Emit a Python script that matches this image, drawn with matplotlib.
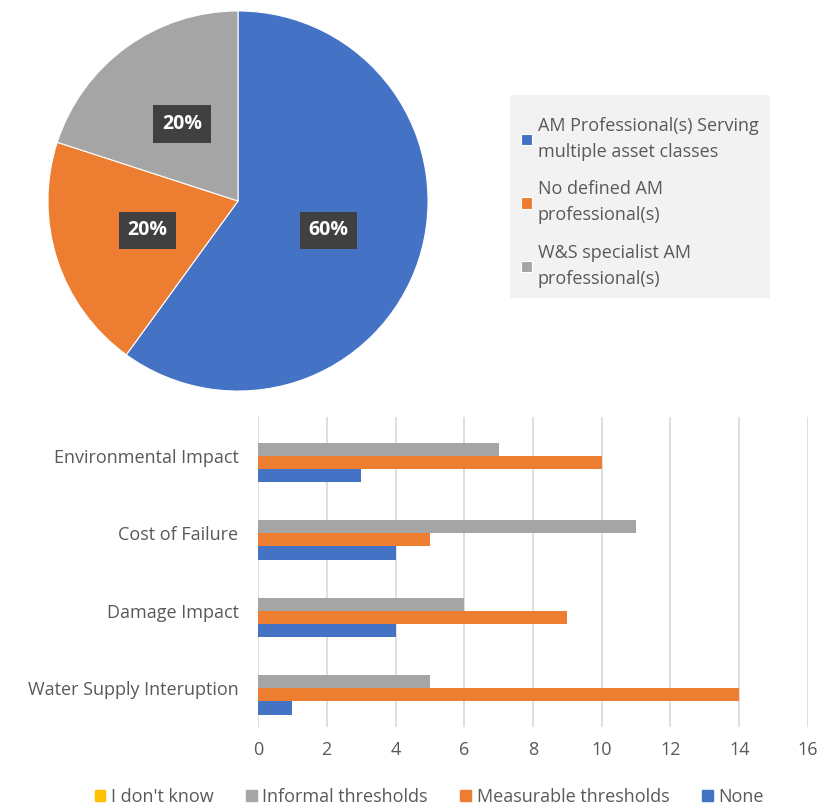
import matplotlib.pyplot as plt
import numpy as np
from matplotlib.patches import Patch, Rectangle

plt.rcParams['font.family'] = ['Open Sans', 'DejaVu Sans']

# pie data
pie_labels = ["AM Professional(s) Serving\nmultiple asset classes",
              "No defined AM\nprofessional(s)",
              "W&S specialist AM\nprofessional(s)"]
pie_values = [60, 20, 20]
pie_colors = ['#4472c4', '#ed7d31', '#a5a5a5']

# bar data
categories = ["Water Supply Interuption", "Damage Impact", "Cost of Failure", "Environmental Impact"]
series_names = ["None", "Measurable thresholds", "Informal thresholds", "I don't know"]
none_vals = [1, 4, 4, 3]
measurable_vals = [14, 9, 5, 10]
informal_vals = [5, 6, 11, 7]
dont_know_vals = [0, 0, 0, 0]
series_vals = [none_vals, measurable_vals, informal_vals, dont_know_vals]
series_colors = ['#4472c4', '#ed7d31', '#a5a5a5', '#ffc000']

text_col = '#595959'

fig = plt.figure(figsize=(8.37, 8.10), dpi=100)

# ---- pie ----
ax1 = fig.add_axes([47 / 837, 418 / 810, 382 / 837, 382 / 810])
wedges, _, autotexts = ax1.pie(pie_values, colors=pie_colors, startangle=90, counterclock=False,
                               autopct='%1.0f%%', pctdistance=0.5,
                               wedgeprops=dict(edgecolor='white', linewidth=0.8))
for t in autotexts:
    t.set_color('white')
    t.set_fontsize(14)
    t.set_fontweight('bold')
    t.set_bbox(dict(facecolor='#404040', edgecolor='none', boxstyle='square,pad=0.45'))
ax1.set_aspect('equal')
ax1.set_xlim(-1.005, 1.005)
ax1.set_ylim(-1.005, 1.005)

# legend background box
fig.patches.append(Rectangle((510 / 837, 1 - 298 / 810), 260 / 837, 203 / 810,
                             transform=fig.transFigure, facecolor='#f2f2f2',
                             edgecolor='none', zorder=0))
leg1 = fig.legend(wedges, pie_labels, loc='upper left', bbox_to_anchor=(510 / 837, 1 - 106 / 810),
                  frameon=False, fontsize=13, labelcolor=text_col, handlelength=0.6,
                  handleheight=0.6, handletextpad=0.35, labelspacing=1.1, borderpad=0.6,
                  borderaxespad=0)
for t in leg1.get_texts():
    t.set_linespacing(1.55)

# ---- bars ----
ax2 = fig.add_axes([258 / 837, 83 / 810, 550 / 837, 310 / 810])
y = np.arange(len(categories))
h = 0.17
offsets = [-1.5 * h, -0.5 * h, 0.5 * h, 1.5 * h]
for vals, off, col in zip(series_vals, offsets, series_colors):
    ax2.barh(y + off, vals, height=h, color=col, zorder=3)

ax2.set_xlim(0, 16)
ax2.set_ylim(-0.5, 3.5)
ax2.set_xticks(range(0, 17, 2))
ax2.set_yticks(y)
ax2.set_yticklabels(categories)
ax2.grid(axis='x', color='#d9d9d9', linewidth=1.2, zorder=0)
for s in ax2.spines.values():
    s.set_visible(False)
ax2.tick_params(axis='both', length=0, labelsize=13, colors=text_col)
ax2.tick_params(axis='x', pad=10)
ax2.tick_params(axis='y', pad=14)

handles = [Patch(color=c) for c in series_colors[::-1]]
fig.legend(handles, series_names[::-1], loc='center', bbox_to_anchor=(429 / 837, 1 - 797 / 810),
           ncol=4, frameon=False, fontsize=13, labelcolor=text_col, handlelength=0.6,
           handleheight=0.6, handletextpad=0.3, columnspacing=1.8)

fig.savefig('out.png', dpi=100)
